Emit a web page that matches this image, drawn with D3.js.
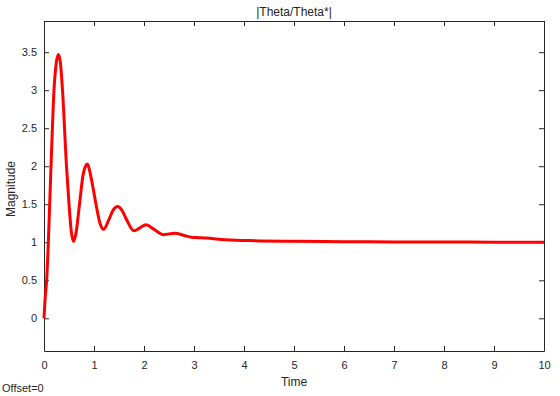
<!DOCTYPE html>
<html><head><meta charset="utf-8">
<script src="https://cdn.jsdelivr.net/npm/d3@7"></script>
<style>body{margin:0;background:#fff}svg{display:block}text{font-family:"Liberation Sans",Arial,Helvetica,sans-serif}</style>
</head><body>
<script>
const time = [0,0.02,0.053,0.087,0.14,0.2,0.25,0.29,0.33,0.37,0.45,0.5,0.55,0.59,0.64,0.71,0.78,0.83,0.87,0.92,0.98,1.04,1.12,1.19,1.3,1.38,1.47,1.56,1.65,1.8,1.92,2.04,2.2,2.39,2.62,2.8,2.95,3.1,3.25,3.55,4.1,5,6,7,8,9,10];
const magnitude = [0,0.24,0.5,1.0,2.0,3.0,3.38,3.47,3.35,3.0,2.0,1.5,1.12,1.01,1.12,1.5,1.88,2.0,2.03,1.92,1.72,1.5,1.25,1.17,1.3,1.42,1.47,1.42,1.3,1.15,1.19,1.23,1.17,1.10,1.12,1.09,1.065,1.06,1.055,1.035,1.022,1.013,1.008,1.005,1.003,1.001,1.0];
const xTicks = [0,1,2,3,4,5,6,7,8,9,10];
const yTicks = [0,0.5,1,1.5,2,2.5,3,3.5];
const titleText = "|Theta/Theta*|", xLabel = "Time", yLabel = "Magnitude", footer = "Offset=0";

const W=560,H=396, L=44,R=544,T=21,B=351;
const svg=d3.select("body").append("svg").attr("width",W).attr("height",H);
const x=d3.scaleLinear().domain([0,10]).range([L,R]);
const y=d3.scaleLinear().domain([-0.43,3.91]).range([B,T]);
const axCol="#262626", txtCol="#262626";
const fs=11;
const ax=(g)=>{g.selectAll("path").attr("stroke",axCol);g.selectAll("line").attr("stroke",axCol);g.selectAll("text").attr("fill",txtCol).style("font-size",fs+"px");};
svg.append("g").attr("transform",`translate(0,${B})`).call(d3.axisBottom(x).tickValues(xTicks).tickSizeInner(-5).tickSizeOuter(0).tickPadding(10).tickFormat(d3.format("d"))).call(ax);
svg.append("g").attr("transform",`translate(0,${T})`).call(d3.axisTop(x).tickValues(xTicks).tickSizeInner(-5).tickSizeOuter(0).tickFormat("")).call(ax);
svg.append("g").attr("transform",`translate(${L},0)`).call(d3.axisLeft(y).tickValues(yTicks).tickSizeInner(-5).tickSizeOuter(0).tickPadding(7).tickFormat(d=>String(d))).call(ax);
svg.append("g").attr("transform",`translate(${R},0)`).call(d3.axisRight(y).tickValues(yTicks).tickSizeInner(-5).tickSizeOuter(0).tickFormat("")).call(ax);
const data=time.map((t,i)=>[t,magnitude[i]]);
svg.append("path").datum(data).attr("fill","none").attr("stroke","#ff0000").attr("stroke-width",3).attr("stroke-linejoin","round")
  .attr("d",d3.line().x(d=>x(d[0])).y(d=>y(d[1])).curve(d3.curveMonotoneX));
svg.append("text").attr("x",(L+R)/2).attr("y",16).attr("text-anchor","middle").attr("fill",txtCol).style("font-size","12px").text(titleText);
svg.append("text").attr("x",(L+R)/2).attr("y",386).attr("text-anchor","middle").attr("fill",txtCol).style("font-size","12px").text(xLabel);
svg.append("text").attr("transform",`translate(15,${(T+B)/2 + 3}) rotate(-90)`).attr("text-anchor","middle").attr("fill",txtCol).style("font-size","12px").text(yLabel);
svg.append("text").attr("x",2).attr("y",392).attr("fill",txtCol).style("font-size","11px").text(footer);
</script>
</body></html>
